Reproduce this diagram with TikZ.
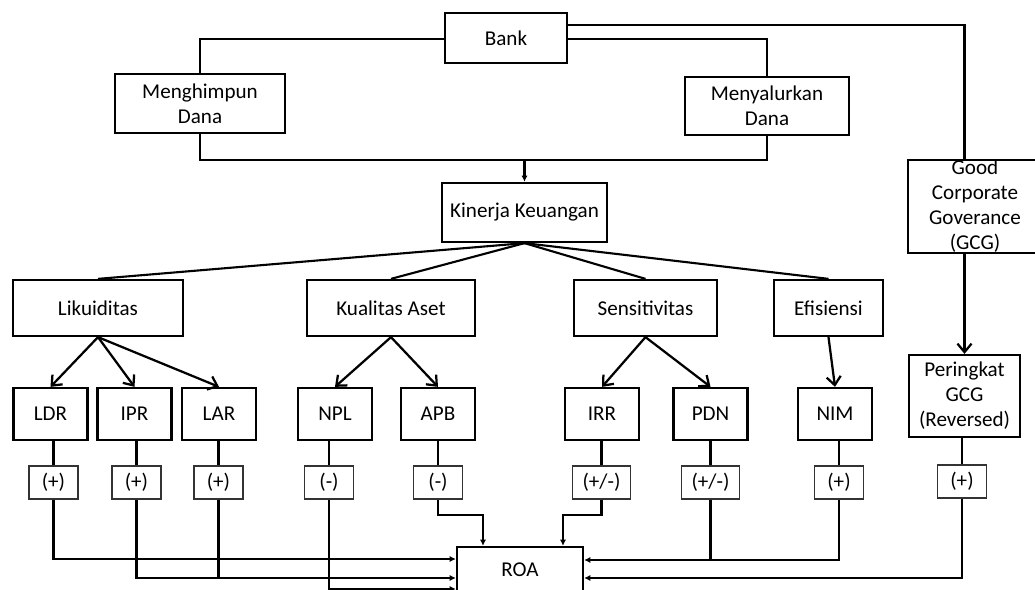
\documentclass[tikz,border=0pt]{standalone}
\usepackage{fontspec}
\setmainfont{Carlito}
\usetikzlibrary{arrows.meta}

\begin{document}
\begin{tikzpicture}[x=0.025cm, y=-0.025cm,
  every node/.style={font=\fontsize{15}{17.8}\selectfont},
  box/.style={draw, line width=1.6pt, align=center, inner sep=0pt},
  ratio/.style={box, minimum width=1.85cm, minimum height=1.3cm},
  signbox/.style={draw=black!80, line width=1pt, inner sep=0pt, minimum width=1.225cm, minimum height=0.825cm},
  link/.style={line width=1.5pt},
  down/.style={line width=1.6pt, -{Straight Barb[length=6pt,width=10pt]}},
  toroa/.style={line width=1.5pt, -{Latex[length=4.5pt,width=4.5pt]}}]
\useasboundingbox (0,0) rectangle (1035,590);

% Bank and its two functions
\node[box, minimum width=3.05cm, minimum height=1.25cm] (bank) at (506,38) {Bank};
\node[box, minimum width=4.25cm, minimum height=1.475cm] (himpun) at (200,103.5) {Menghimpun\\Dana};
\node[box, minimum width=4.1cm, minimum height=1.45cm] (salur) at (767,106) {Menyalurkan\\Dana};
\node[box, minimum width=4.125cm, minimum height=1.475cm] (kinerja) at (524.5,212.5) {Kinerja Keuangan};
\node[box, minimum width=3.35cm, minimum height=2.325cm] (gcg) at (975,206.5) {Good\\Corporate\\Goverance\\(GCG)};

% Aspects of financial performance
\node[box, minimum width=4.25cm, minimum height=1.4cm] (likuid) at (98,308) {Likuiditas};
\node[box, minimum width=4.2cm, minimum height=1.4cm] (aset) at (391,308) {Kualitas Aset};
\node[box, minimum width=3.575cm, minimum height=1.4cm] (sensi) at (645.5,308) {Sensitivitas};
\node[box, minimum width=2.725cm, minimum height=1.4cm] (efisi) at (828.5,308) {Efisiensi};

% Ratios
\node[ratio] (ldr) at (50.5,414) {LDR};
\node[ratio] (ipr) at (134.5,414) {IPR};
\node[ratio] (lar) at (219,414) {LAR};
\node[ratio] (npl) at (335,414) {NPL};
\node[ratio] (apb) at (438,414) {APB};
\node[ratio] (irr) at (602,414) {IRR};
\node[ratio] (pdn) at (710.5,414) {PDN};
\node[ratio] (nim) at (835,414) {NIM};
\node[box, minimum width=2.775cm, minimum height=2.05cm] (pering) at (964.5,396) {Peringkat\\GCG\\(Reversed)};

% Expected signs
\node[signbox] (sldr) at (53.5,482.5) {(+)};
\node[signbox] (sipr) at (136.5,482.5) {(+)};
\node[signbox] (slar) at (218.5,482.5) {(+)};
\node[signbox] (snpl) at (329,482.5) {(-)};
\node[signbox] (sapb) at (438,482.5) {(-)};
\node[signbox, minimum width=1.45cm] (sirr) at (601.5,482.5) {(+/-)};
\node[signbox, minimum width=1.45cm] (spdn) at (710.5,482.5) {(+/-)};
\node[signbox] (snim) at (839,482.5) {(+)};
\node[signbox] (sgcg) at (962,481.5) {(+)};

\node[box, minimum width=3.15cm, minimum height=1.15cm] (roa) at (520,570) {ROA};

% Top connectors
\draw[link] ([yshift=-1pt]bank.west) -| (himpun.north);
\draw[link] ([yshift=-1pt]bank.east) -| (salur.north);
\draw[link] ([yshift=9pt]bank.east) -| (gcg.north -| pering.north);
\coordinate (merge) at (kinerja.north |- 0,160);
\draw[link] (himpun.south) |- (merge) -| (salur.south);
\draw[toroa] (merge) -- (kinerja.north);
\draw[down] (gcg.south -| pering.north) -- (pering.north);

% Kinerja to aspects
\draw[link] (kinerja.south) -- (likuid.north);
\draw[link] (kinerja.south) -- (aset.north);
\draw[link] (kinerja.south) -- (sensi.north);
\draw[link] (kinerja.south) -- (efisi.north);

% Aspects to ratios
\draw[down] (likuid.south) -- (ldr.north);
\draw[down] (likuid.south) -- (ipr.north);
\draw[down] (likuid.south) -- (lar.north);
\draw[down] (aset.south) -- (npl.north);
\draw[down] (aset.south) -- (apb.north);
\draw[down] (sensi.south) -- (irr.north);
\draw[down] (sensi.south) -- (pdn.north);
\draw[down] (efisi.south) -- (nim.north);

% Ratios to signs
\draw[link] (sldr.north |- ldr.south) -- (sldr.north);
\draw[link] (sipr.north |- ipr.south) -- (sipr.north);
\draw[link] (slar.north |- lar.south) -- (slar.north);
\draw[link] (snpl.north |- npl.south) -- (snpl.north);
\draw[link] (sapb.north |- apb.south) -- (sapb.north);
\draw[link] (sirr.north |- irr.south) -- (sirr.north);
\draw[link] (spdn.north |- pdn.south) -- (spdn.north);
\draw[link] (snim.north |- nim.south) -- (snim.north);
\draw[link] (sgcg.north |- pering.south) -- (sgcg.north);

% Signs to ROA
\draw[toroa] (sldr.south) |- (roa.west |- 0,559);
\draw[toroa] (sipr.south) |- (roa.west |- 0,578);
\draw[link] (slar.south) -- (slar.south |- 0,578);
\draw[toroa] (snpl.south) |- (roa.west |- 0,589);
\draw[toroa] (sapb.south) -- (sapb.south |- 0,515) -| (roa.north -| 483,0);
\draw[toroa] (sirr.south) -- (sirr.south |- 0,515) -| (roa.north -| 563,0);
\draw[link] (spdn.south) -- (spdn.south |- 0,560);
\draw[toroa] (snim.south) |- (roa.east |- 0,560);
\draw[toroa] (sgcg.south) |- (roa.east |- 0,578);
\end{tikzpicture}
\end{document}
